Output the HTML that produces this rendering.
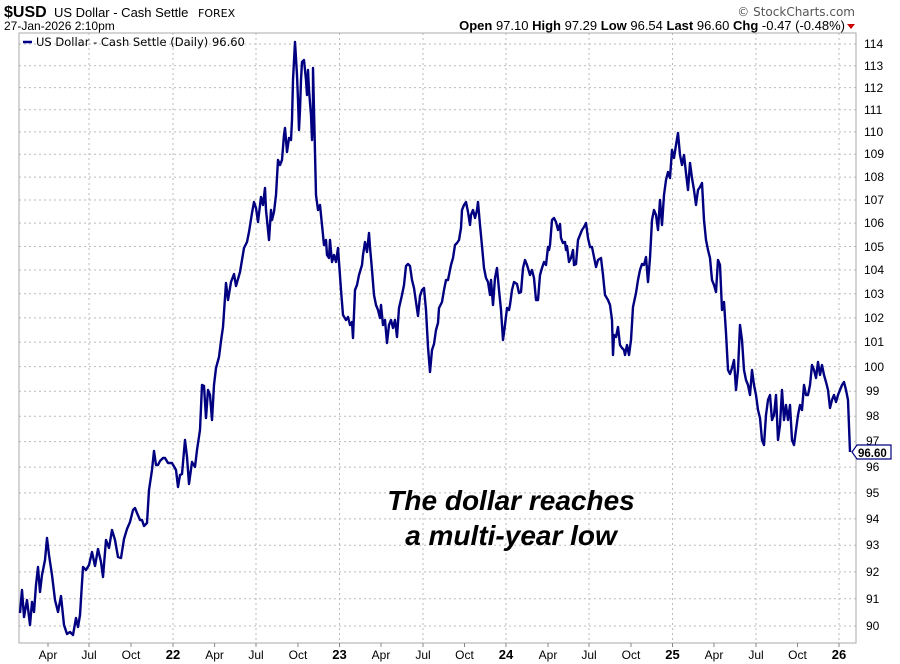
<!DOCTYPE html>
<html><head><meta charset="utf-8"><style>
html,body{margin:0;padding:0;background:#fff;}
svg{display:block;font-family:"Liberation Sans",Arial,sans-serif;}
</style></head><body>
<svg width="900" height="664" viewBox="0 0 900 664" xmlns="http://www.w3.org/2000/svg">
<rect width="900" height="664" fill="#fff"/>
<text x="4" y="17" font-size="16" font-weight="bold" fill="#000">$USD</text>
<text x="54" y="17" font-size="13" fill="#000">US Dollar - Cash Settle</text>
<text x="198" y="17" font-size="11" fill="#000" font-family="DejaVu Sans, sans-serif">FOREX</text>
<text x="4" y="30" font-size="12" fill="#000">27-Jan-2026 2:10pm</text>
<text x="855" y="16" font-size="12" fill="#555" text-anchor="end" font-family="DejaVu Sans, sans-serif">© StockCharts.com</text>
<text x="845" y="30" font-size="13" text-anchor="end" fill="#000"><tspan font-weight="bold">Open</tspan> 97.10  <tspan font-weight="bold">High</tspan> 97.29  <tspan font-weight="bold">Low</tspan> 96.54  <tspan font-weight="bold">Last</tspan> 96.60  <tspan font-weight="bold">Chg</tspan> -0.47 (-0.48%)</text>
<polygon points="847,24 855,24 851,29" fill="#c00"/>
<g stroke="#bbb" stroke-width="1" stroke-dasharray="2,3">
<line x1="19" x2="856" y1="44" y2="44"/><line x1="19" x2="856" y1="65.7" y2="65.7"/><line x1="19" x2="856" y1="87.6" y2="87.6"/><line x1="19" x2="856" y1="109.7" y2="109.7"/><line x1="19" x2="856" y1="131.9" y2="131.9"/><line x1="19" x2="856" y1="154.3" y2="154.3"/><line x1="19" x2="856" y1="177.1" y2="177.1"/><line x1="19" x2="856" y1="200" y2="200"/><line x1="19" x2="856" y1="223.1" y2="223.1"/><line x1="19" x2="856" y1="246.5" y2="246.5"/><line x1="19" x2="856" y1="270" y2="270"/><line x1="19" x2="856" y1="293.8" y2="293.8"/><line x1="19" x2="856" y1="317.9" y2="317.9"/><line x1="19" x2="856" y1="342.1" y2="342.1"/><line x1="19" x2="856" y1="366.6" y2="366.6"/><line x1="19" x2="856" y1="391.3" y2="391.3"/><line x1="19" x2="856" y1="416.3" y2="416.3"/><line x1="19" x2="856" y1="441.6" y2="441.6"/><line x1="19" x2="856" y1="467.1" y2="467.1"/><line x1="19" x2="856" y1="492.9" y2="492.9"/><line x1="19" x2="856" y1="518.9" y2="518.9"/><line x1="19" x2="856" y1="545.3" y2="545.3"/><line x1="19" x2="856" y1="571.9" y2="571.9"/><line x1="19" x2="856" y1="598.8" y2="598.8"/><line x1="19" x2="856" y1="626" y2="626"/>
<line y1="33" y2="643" x1="89" x2="89"/><line y1="33" y2="643" x1="173" x2="173"/><line y1="33" y2="643" x1="256" x2="256"/><line y1="33" y2="643" x1="339.5" x2="339.5"/><line y1="33" y2="643" x1="423" x2="423"/><line y1="33" y2="643" x1="506" x2="506"/><line y1="33" y2="643" x1="589" x2="589"/><line y1="33" y2="643" x1="672.5" x2="672.5"/><line y1="33" y2="643" x1="756" x2="756"/><line y1="33" y2="643" x1="839" x2="839"/>
</g>
<rect x="19" y="33" width="837" height="610" fill="none" stroke="#aaa" stroke-width="1"/>
<g stroke="#888" stroke-width="1">
<line x1="48" x2="48" y1="643" y2="647"/><line x1="89" x2="89" y1="643" y2="647"/><line x1="131" x2="131" y1="643" y2="647"/><line x1="173" x2="173" y1="643" y2="647"/><line x1="214.6" x2="214.6" y1="643" y2="647"/><line x1="256" x2="256" y1="643" y2="647"/><line x1="298" x2="298" y1="643" y2="647"/><line x1="339.5" x2="339.5" y1="643" y2="647"/><line x1="381" x2="381" y1="643" y2="647"/><line x1="423" x2="423" y1="643" y2="647"/><line x1="464.5" x2="464.5" y1="643" y2="647"/><line x1="506" x2="506" y1="643" y2="647"/><line x1="548" x2="548" y1="643" y2="647"/><line x1="589" x2="589" y1="643" y2="647"/><line x1="631" x2="631" y1="643" y2="647"/><line x1="672.5" x2="672.5" y1="643" y2="647"/><line x1="714" x2="714" y1="643" y2="647"/><line x1="756" x2="756" y1="643" y2="647"/><line x1="797.5" x2="797.5" y1="643" y2="647"/><line x1="839" x2="839" y1="643" y2="647"/>
</g>
<g font-size="12" fill="#000" text-anchor="middle">
<text x="48" y="659">Apr</text><text x="89" y="659">Jul</text><text x="131" y="659">Oct</text><text x="173" y="659" font-weight="bold" font-size="13">22</text>
<text x="214.6" y="659">Apr</text><text x="256" y="659">Jul</text><text x="298" y="659">Oct</text><text x="339.5" y="659" font-weight="bold" font-size="13">23</text>
<text x="381" y="659">Apr</text><text x="423" y="659">Jul</text><text x="464.5" y="659">Oct</text><text x="506" y="659" font-weight="bold" font-size="13">24</text>
<text x="548" y="659">Apr</text><text x="589" y="659">Jul</text><text x="631" y="659">Oct</text><text x="672.5" y="659" font-weight="bold" font-size="13">25</text>
<text x="714" y="659">Apr</text><text x="756" y="659">Jul</text><text x="797.5" y="659">Oct</text><text x="839" y="659" font-weight="bold" font-size="13">26</text>
</g>
<g font-size="12" fill="#000">
<text x="864" y="48">114</text><text x="864" y="70">113</text><text x="864" y="92">112</text><text x="864" y="114">111</text><text x="864" y="136">110</text><text x="864" y="158">109</text><text x="864" y="181">108</text><text x="864" y="204">107</text><text x="864" y="227">106</text><text x="864" y="251">105</text><text x="864" y="274">104</text><text x="864" y="298">103</text><text x="864" y="322">102</text><text x="864" y="346">101</text><text x="864" y="371">100</text><text x="866" y="395">99</text><text x="866" y="420">98</text><text x="866" y="445">97</text><text x="866" y="471">96</text><text x="866" y="497">95</text><text x="866" y="523">94</text><text x="866" y="549">93</text><text x="866" y="576">92</text><text x="866" y="603">91</text><text x="866" y="630">90</text>
</g>
<line x1="23" x2="32" y1="42" y2="42" stroke="#00008b" stroke-width="2.5"/>
<text x="36" y="46" font-size="11.5" font-family="DejaVu Sans, sans-serif" fill="#000">US Dollar - Cash Settle (Daily) 96.60</text>
<polyline fill="none" stroke="#000080" stroke-width="2.4" stroke-linejoin="round" points="
20,613 22,590 24,617 27,600 30,625 32,602 34,612 36,585 38,567 40,592 42,575 45,560 47,538 49,555 52,575 55,600 58,612 61,596 64,625 67,634 70,632 73,635 76,618 78,627 80,615 83,567 86,570 89,565 92,552 95,566 98,549 101,562 103,577 106,540 109,548 112,530 115,540 118,557 121,558 124,539 127,529 130,522 133,510 135,508 137,513 140,520 142,520 144,526 147,523 149,490 152,470 154,451 156,465 158,465 160,461 163,458 165,458 168,463 172,463 176,470 178,487 180,475 182,474 185,440 187,457 189,484 192,462 195,467 197,450 200,430 202,385 204,386 206,418 208,390 210,395 212,420 214,385 216,368 219,357 221,341 223,327 226,283 228,300 231,282 234,274 236,286 240,272 244,248 247,242 249,232 252,213 254,202 256,208 258,222 261,197 263,205 265,188 266,210 269,240 271,210 272,220 274,212 276,195 278,160 280,165 282,160 284,135 285,128 287,152 289,138 291,140 292,120 293,80 295,42 297,75 298,100 299,130 300,110 301,80 302,62 304,60 306,80 307,95 308,70 309,90 311,115 312,140 313,110 313,68 314,110 316,195 318,210 320,205 322,225 324,245 326,240 327,255 329,258 330,240 332,262 334,255 336,262 338,248 341,290 343,315 346,320 348,317 350,325 352,322 353,338 355,290 357,285 359,275 362,265 363,255 365,242 367,252 369,233 370,247 372,270 374,295 376,305 378,310 380,318 381,305 383,325 385,320 387,343 389,325 391,320 393,328 395,320 397,337 399,308 402,295 404,285 406,266 408,264 410,266 412,280 414,288 416,302 418,316 420,296 422,290 424,288 426,310 428,347 430,372 432,350 434,344 436,330 438,323 439,308 442,302 444,290 446,280 448,280 451,265 453,258 455,245 457,243 459,240 461,228 462,210 464,205 466,202 468,212 470,225 471,215 473,210 475,218 477,210 478,202 480,225 482,246 484,268 486,278 488,282 490,295 491,280 493,305 495,278 497,268 499,290 501,310 503,340 505,325 507,308 509,310 510,305 512,290 514,282 517,284 519,293 521,292 523,268 525,260 527,265 530,275 532,270 534,278 536,300 538,300 540,275 542,268 544,262 546,265 548,247 549,250 550,245 552,220 554,218 556,222 558,230 560,224 561,238 563,243 565,242 566,250 567,246 569,262 571,258 573,250 574,265 576,264 578,240 580,235 582,230 584,227 586,223 588,238 590,247 592,247 594,257 596,267 598,260 601,258 603,275 605,295 608,300 610,305 612,320 613,355 614,335 616,337 618,327 620,345 622,348 624,350 625,355 627,345 629,355 631,340 633,307 636,293 638,280 640,270 642,264 644,265 646,257 648,282 650,258 652,220 654,210 656,215 658,230 660,200 662,225 664,195 666,180 668,172 670,178 672,150 674,158 676,145 678,133 680,155 682,165 684,155 686,173 688,190 690,163 692,178 694,190 696,205 698,190 700,187 702,183 704,220 706,240 708,250 710,258 712,280 714,285 716,292 718,260 720,265 722,310 724,302 726,333 728,370 730,374 732,368 734,360 736,390 738,370 740,325 742,340 744,370 746,380 748,385 750,395 752,370 754,385 756,395 758,410 760,418 762,440 764,445 766,415 768,400 770,395 772,420 774,415 776,395 778,440 780,425 782,390 784,420 786,405 788,420 790,405 792,440 794,445 796,430 798,415 800,405 802,410 804,385 806,395 808,395 810,385 812,365 814,370 816,378 818,362 820,375 822,365 824,375 826,382 828,390 830,408 832,400 834,395 836,402 838,395 840,390 842,385 844,382 846,390 848,400 850,452"/>
<polygon points="852,452 857,445 891,445 891,459 857,459" fill="#fff" stroke="#000080" stroke-width="1.2"/>
<text x="858" y="457" font-size="11.5" font-weight="bold" fill="#000">96.60</text>
<g font-size="28" font-weight="bold" font-style="italic" fill="#000" text-anchor="middle">
<text x="511" y="510">The dollar reaches</text>
<text x="511" y="545">a multi-year low</text>
</g>
</svg>
</body></html>
